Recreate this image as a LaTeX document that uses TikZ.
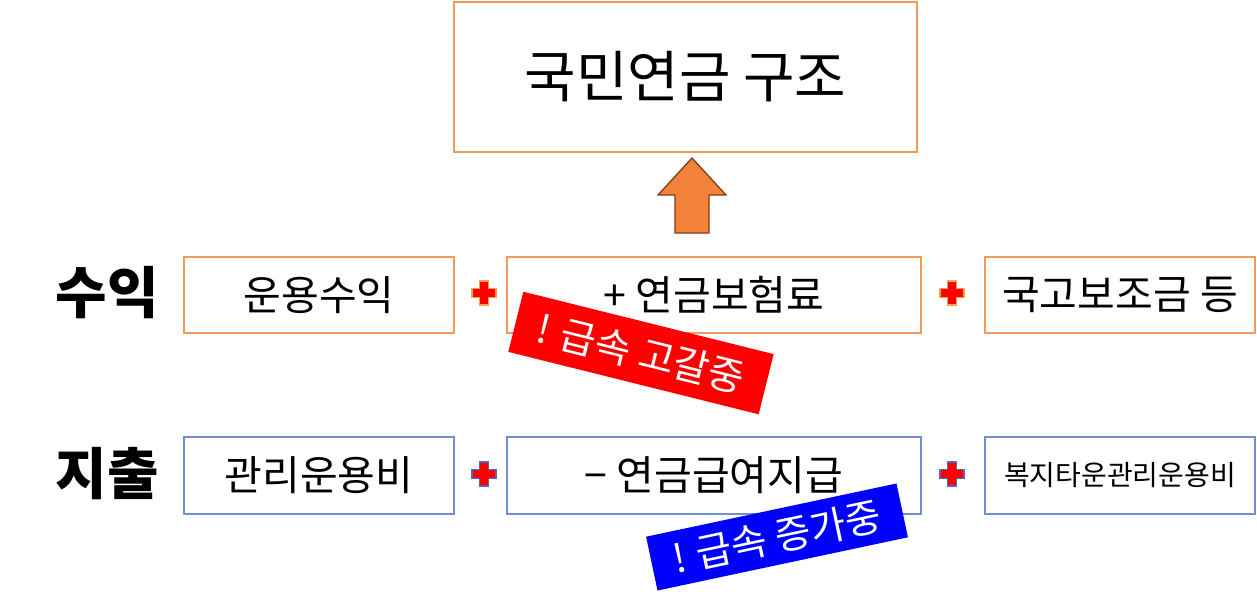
\documentclass[tikz,border=0pt]{standalone}
\usepackage{fontspec}
\newfontfamily\kr{Noto Sans CJK KR}
\definecolor{boxorange}{HTML}{F19A5C}
\definecolor{boxblue}{HTML}{6F8FD0}
\definecolor{arrowfill}{HTML}{F5823A}
\definecolor{arrowline}{HTML}{7B3F12}
\definecolor{plusglow}{HTML}{F7A050}
\definecolor{plusblue}{HTML}{5566C0}
\begin{document}
\begin{tikzpicture}[x=1pt,y=-1pt,
  obox/.style={draw=boxorange, line width=1.5pt, fill=white, inner sep=0pt, font=\kr\fontsize{41}{46}\selectfont},
  bbox/.style={draw=boxblue, line width=1.5pt, fill=white, inner sep=0pt, font=\kr\fontsize{41}{46}\selectfont},
  rowlabel/.style={font=\kr\bfseries\fontsize{56}{60}\selectfont},
  tag/.style={text=white, inner sep=0pt, font=\kr\fontsize{39}{44}\selectfont},
  plusmark/.pic={\filldraw[fill=red, draw=#1, line width=1.8pt]
    (-12,-4.5)--(-4.5,-4.5)--(-4.5,-12)--(4.5,-12)--(4.5,-4.5)--(12,-4.5)--(12,4.5)--(4.5,4.5)--(4.5,12)--(-4.5,12)--(-4.5,4.5)--(-12,4.5)--cycle;}
]
\useasboundingbox (0,0) rectangle (1257,597);
% title
\node[obox, minimum width=463, minimum height=150, font=\kr\fontsize{56}{62}\selectfont] (title) at (685.5,77) {국민연금 구조};
% arrow
\filldraw[fill=arrowfill, draw=arrowline, line width=1.3pt]
  (692,158)--(726,195)--(709,195)--(709,233)--(675,233)--(675,195)--(658,195)--cycle;
% row labels
\node[rowlabel] (inc) at (107,293) {수익};
\node[rowlabel] (exp) at (107,474) {지출};
% income row
\node[obox, minimum width=270, minimum height=76] (i1) at (319,295) {운용수익};
\node[obox, minimum width=414, minimum height=76] (i2) at (714,295) {+ 연금보험료};
\node[obox, minimum width=270, minimum height=76] (i3) at (1120,295) {국고보조금 등};
% expense row
\node[bbox, minimum width=270, minimum height=77] (e1) at (319,475.5) {관리운용비};
\node[bbox, minimum width=414, minimum height=77] (e2) at (714,475.5) {− 연금급여지급};
\node[bbox, minimum width=270, minimum height=77, font=\kr\fontsize{28}{32}\selectfont] (e3) at (1120,475.5) {복지타운관리운용비};
% plus marks
\pic at (484,293) {plusmark=plusglow};
\pic at (952,293) {plusmark=plusglow};
\pic at (484,474) {plusmark=plusblue};
\pic at (952,474) {plusmark=plusblue};
% tags
\node[tag, fill=red, rotate=-14, minimum width=258, minimum height=62] (t1) at (641,353) {! 급속 고갈중};
\node[tag, fill=blue, rotate=12, minimum width=256, minimum height=55] (t2) at (777,537) {! 급속 증가중};
\end{tikzpicture}
\end{document}
